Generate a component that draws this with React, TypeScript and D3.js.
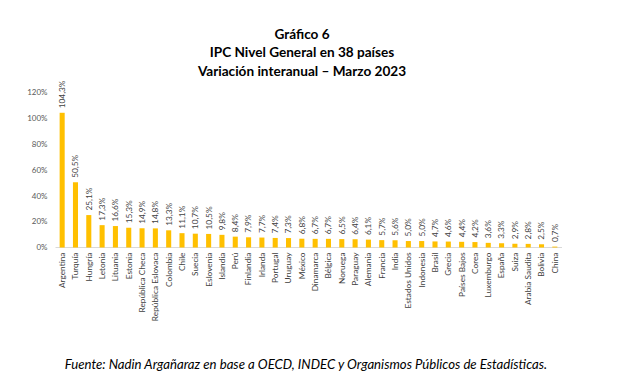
import React from "react";
import * as d3 from "d3";

const countries = [
  "Argentina", "Turquía", "Hungría", "Letonia", "Lituania", "Estonia",
  "República Checa", "República Eslovaca", "Colombia", "Chile", "Suecia",
  "Eslovenia", "Islandia", "Perú", "Finlandia", "Irlanda", "Portugal",
  "Uruguay", "México", "Dinamarca", "Bélgica", "Noruega", "Paraguay",
  "Alemania", "Francia", "India", "Estados Unidos", "Indonesia", "Brasil",
  "Grecia", "Países Bajos", "Corea", "Luxemburgo", "España", "Suiza",
  "Arabia Saudita", "Bolivia", "China",
];
const values = [
  104.3, 50.5, 25.1, 17.3, 16.6, 15.3, 14.9, 14.8, 13.3, 11.1, 10.7, 10.5,
  9.8, 8.4, 7.9, 7.7, 7.4, 7.3, 6.8, 6.7, 6.7, 6.5, 6.4, 6.1, 5.7, 5.6,
  5.0, 5.0, 4.7, 4.6, 4.4, 4.2, 3.6, 3.3, 2.9, 2.8, 2.5, 0.7,
];
const yTicks = [0, 20, 40, 60, 80, 100, 120];
const titleLines = [
  "Gráfico 6",
  "IPC Nivel General en 38 países",
  "Variación interanual – Marzo 2023",
];
const source =
  "Fuente: Nadin Argañaraz en base a OECD, INDEC y Organismos Públicos de Estadísticas.";

const W = 622;
const H = 389;
const FONT = "Lato, 'Open Sans', sans-serif";
const GRAY = "#595959";
const BAR = "#FFC000";

export default function App() {
  const x = d3
    .scaleBand<string>()
    .domain(countries)
    .range([55.5, 561.5])
    .paddingInner(0.62)
    .paddingOuter(0.31);
  const y = d3.scaleLinear().domain([0, 120]).range([247.5, 92.5]);
  const fmt = (v: number) => v.toFixed(1).replace(".", ",") + "%";

  return (
    <svg
      width={W}
      height={H}
      style={{ position: "absolute", left: 0, top: 0, background: "#fff" }}
      fontFamily={FONT}
    >
      <rect x={0} y={0} width={W} height={H} fill="#fff" />
      {titleLines.map((t, i) => (
        <text
          key={i}
          x={302}
          y={38.5 + i * 18.5}
          textAnchor="middle"
          fontWeight="bold"
          fontSize={13.6}
          fill="#000"
        >
          {t}
        </text>
      ))}
      {yTicks.map((t) => (
        <text
          key={t}
          x={47.5}
          y={y(t)}
          dy="0.35em"
          textAnchor="end"
          fontSize={8}
          fill={GRAY}
        >
          {t + "%"}
        </text>
      ))}
      <line x1={55.5} x2={562} y1={y(0)} y2={y(0)} stroke="#d9d9d9" strokeWidth={1} />
      {countries.map((c, i) => {
        const bx = x(c)!;
        const bw = x.bandwidth();
        const cx = bx + bw / 2;
        const v = values[i];
        return (
          <g key={c}>
            <rect x={bx} y={y(v)} width={bw} height={y(0) - y(v)} fill={BAR} />
            <text
              transform={`translate(${cx},${y(v) - 4.5}) rotate(-90)`}
              dy="0.35em"
              textAnchor="start"
              fontSize={8.3}
              fill="#404040"
            >
              {fmt(v)}
            </text>
            <text
              transform={`translate(${cx},${y(0) + 5}) rotate(-90)`}
              dy="0.35em"
              textAnchor="end"
              fontSize={8.3}
              fill="#404040"
            >
              {c}
            </text>
          </g>
        );
      })}
      <text
        x={306}
        y={369}
        textAnchor="middle"
        fontStyle="italic"
        fontSize={13.2}
        fill="#000"
      >
        {source}
      </text>
    </svg>
  );
}
